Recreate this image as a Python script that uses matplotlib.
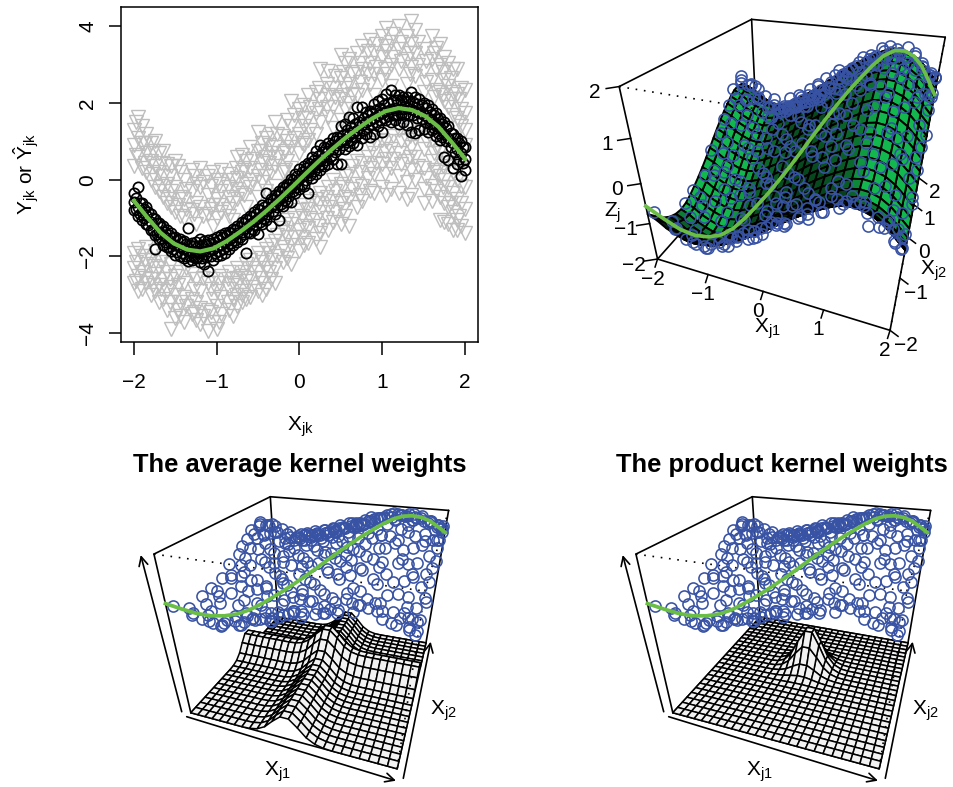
import numpy as np
import matplotlib
matplotlib.use("Agg")
import matplotlib.pyplot as plt
from matplotlib.collections import PolyCollection

plt.rcParams['font.family'] = ['Liberation Sans', 'DejaVu Sans']
plt.rcParams['mathtext.fontset'] = 'custom'
plt.rcParams['mathtext.rm'] = 'Liberation Sans'
plt.rcParams['mathtext.it'] = 'Liberation Sans'
plt.rcParams['mathtext.bf'] = 'Liberation Sans:bold'

GREEN = '#6abd45'
BLUE = '#3953a4'
GREY = '#bebebe'

# true curve
grid_x = [-2.0, -1.84, -1.68, -1.52, -1.36, -1.2, -1.04, -0.88, -0.72, -0.56, -0.4, -0.24, -0.08,
          0.08, 0.24, 0.4, 0.56, 0.72, 0.88, 1.04, 1.2, 1.36, 1.52, 1.68, 1.84, 2.0]
curve_y = [-0.55, -0.98, -1.38, -1.66, -1.82, -1.87, -1.79, -1.6, -1.36, -1.1, -0.81, -0.5, -0.17,
           0.17, 0.5, 0.81, 1.1, 1.36, 1.6, 1.79, 1.87, 1.82, 1.66, 1.38, 0.98, 0.55]
# surface profile along x1 in the top right panel
surface_x1 = [-0.95, -1.15, -1.45, -1.66, -1.82, -1.87, -1.79, -1.6, -1.36, -1.1, -0.81, -0.5, -0.17,
              0.17, 0.5, 0.81, 1.1, 1.36, 1.6, 1.79, 1.87, 1.82, 1.66, 1.38, 0.98, 0.55]

# kernel weight profiles along each axis (bottom panels)
kernel_x1 = [0, 0, 0, 0, 0, 0, 0, 0, 0.02, 0.1, 0.3, 0.65, 0.95, 0.95, 0.65, 0.3, 0.1, 0.02, 0, 0, 0, 0, 0, 0, 0, 0]
kernel_x2 = [0, 0, 0, 0, 0, 0, 0, 0, 0, 0, 0.02, 0.1, 0.3, 0.65, 0.95, 0.95, 0.65, 0.3, 0.1, 0.02, 0, 0, 0, 0, 0, 0]

# grey triangles: one x per row
grey_x = [-2.0, -1.95, -1.9, -1.85, -1.8, -1.75, -1.7, -1.65, -1.6, -1.55, -1.5, -1.45, -1.4, -1.3, -1.25, -1.2,
          -1.1, -1.05, -1.0, -0.95, -0.85, -0.8, -0.75, -0.7, -0.65, -0.6, -0.5, -0.45, -0.4, -0.35, -0.3, -0.2,
          -0.15, -0.1, 0.0, 0.05, 0.1, 0.2, 0.25, 0.35, 0.4, 0.5, 0.55, 0.6, 0.7, 0.75, 0.85, 0.9,
          1.0, 1.05, 1.1, 1.2, 1.3, 1.35, 1.4, 1.5, 1.6, 1.65, 1.7, 1.75, 1.8, 1.85, 1.9, 1.95, 2.0]
grey_y = [
    [1.3, 0.9, 0.35, -1.9, -2.3, -2.7], [1.65, 1.1, 0.6, -1.8, -2.5, -2.9], [1.4, 0.95, 0.3, -2.0, -2.4, -2.85],
    [1.2, 0.7, 0.2, -1.75, -2.2, -2.7], [0.95, 0.5, 0.0, -2.1, -2.6, -3.0], [1.0, 0.35, -0.2, -1.85, -2.45, -2.9],
    [0.7, 0.2, -0.3, -2.3, -2.75, -3.2], [0.75, 0.1, -0.45, -2.0, -2.6, -3.1], [0.4, -0.1, -0.6, -2.4, -2.9, -3.4],
    [0.35, -0.3, -0.7, -2.2, -2.8, -3.9], [0.5, -0.2, -0.85, -2.5, -3.0, -3.6], [0.2, -0.45, -0.95, -2.4, -3.2, -3.55],
    [0.0, -0.5, -1.0, -2.7, -3.05, -3.7], [0.25, -0.3, -0.8, -2.45, -3.1, -3.5], [-0.1, -0.6, -1.15, -2.6, -3.2, -3.65],
    [0.3, -0.2, -0.7, -2.9, -3.35, -3.75], [0.1, -0.4, -0.9, -2.7, -3.4, -3.95], [0.2, -0.65, -1.2, -2.6, -3.1, -3.7],
    [0.0, -0.5, -1.0, -2.9, -3.3, -3.9], [0.25, -0.3, -0.85, -2.5, -3.05, -3.5], [0.15, -0.45, -0.95, -2.4, -2.85, -3.4],
    [0.0, -0.6, -1.05, -2.7, -3.1, -3.55], [0.6, 0.05, -0.5, -2.3, -2.75, -3.3], [0.65, 0.2, -0.35, -2.5, -3.0, -3.2],
    [0.5, -0.1, -0.7, -2.2, -2.65, -3.1], [0.85, 0.3, -0.2, -2.1, -2.55, -3.05], [1.25, 0.75, 0.1, -0.45, -1.9, -2.4, -2.9],
    [0.95, 0.5, -0.05, -2.15, -2.7, -3.0], [1.1, 0.6, 0.1, -0.3, -1.8, -2.3, -2.85], [1.2, 0.7, 0.2, -1.7, -2.1, -2.6],
    [1.5, 0.85, 0.35, -0.15, -1.6, -2.3, -2.7], [1.15, 0.7, 0.2, -1.25, -1.75, -2.15], [1.55, 1.0, 0.5, -1.05, -1.5, -2.05],
    [2.05, 1.4, 0.85, 0.3, -1.15, -1.7, -2.2], [1.85, 1.2, 0.7, -0.8, -1.3, -1.85], [1.95, 1.4, 0.9, -0.65, -1.2, -1.7],
    [2.2, 1.6, 1.05, -0.75, -1.25, -1.65], [2.3, 1.75, 1.2, -0.5, -1.05, -1.55], [2.9, 2.1, 1.5, -0.35, -0.85, -1.4, -1.75],
    [2.85, 2.2, 1.65, -0.2, -0.7, -1.3], [2.4, 1.9, 1.35, 0.0, -0.55, -1.1], [3.25, 2.65, 2.1, 1.55, -0.1, -0.6, -1.15],
    [3.05, 2.4, 1.85, 0.1, -0.45, -0.95], [3.15, 2.5, 2.0, 0.15, -0.5, -1.2], [3.3, 2.8, 2.2, 0.5, -0.1, -0.7],
    [3.5, 2.9, 2.35, 0.45, -0.15, -0.55], [3.65, 3.05, 2.5, 0.9, 0.3, -0.3], [3.3, 2.75, 2.2, 0.7, 0.15, -0.35],
    [3.75, 3.2, 2.6, 1.05, 0.4, -0.2], [3.95, 3.35, 2.75, 1.0, 0.55, -0.4], [3.6, 3.0, 2.45, 0.8, 0.3, -0.25],
    [4.0, 3.4, 2.9, 1.3, 0.7, 0.1, -0.35], [3.75, 3.15, 2.5, 1.05, 0.5, -0.05, -0.5], [4.15, 3.55, 2.95, 1.4, 0.85, 0.25, -0.4],
    [3.9, 3.3, 2.7, 1.1, 0.6, 0.0], [3.4, 2.85, 2.3, 0.8, 0.3, -0.25, -0.6], [3.75, 3.15, 2.6, 1.05, 0.5, -0.15, -0.55],
    [3.45, 2.9, 2.35, 0.85, 0.2, -0.3], [3.55, 3.0, 2.3, 0.75, 0.1, -0.45, -1.05], [3.2, 2.6, 2.05, 0.55, 0.0, -0.6, -1.1],
    [3.05, 2.45, 1.9, 0.45, -0.2, -0.7, -1.15], [2.9, 2.3, 1.7, 0.2, -0.35, -0.85, -1.3], [2.9, 2.25, 1.6, 0.0, -0.5, -1.05, -1.3],
    [2.4, 1.85, 1.4, -0.15, -0.6, -1.2], [2.35, 1.75, 1.3, 0.9, -0.2, -0.75, -1.4]]
grey2_x = [-1.97, -1.87, -1.77, -1.67, -1.57, -1.47, -1.37, -1.27, -1.17, -1.07, -0.97, -0.87, -0.77, -0.67, -0.57, -0.47,
           -0.37, -0.27, -0.17, -0.07, 0.03, 0.13, 0.23, 0.33, 0.43, 0.53, 0.63, 0.73, 0.83, 0.93,
           1.03, 1.13, 1.23, 1.33, 1.43, 1.53, 1.63, 1.73, 1.83, 1.93]
grey2_y = [
    [1.5, 0.65, -2.15, -2.65], [0.95, 0.45, -2.1, -2.55], [0.75, 0.15, -2.25, -2.75], [0.45, -0.15, -2.15, -2.85],
    [0.1, -0.5, -2.6, -3.2], [0.35, -0.65, -2.75, -3.4], [-0.25, -0.75, -2.3, -3.3], [0.1, -0.9, -2.85, -3.45],
    [-0.05, -0.95, -2.55, -3.55], [-0.15, -0.75, -2.85, -3.45], [-0.1, -0.65, -2.7, -3.7], [-0.2, -0.75, -2.6, -3.2],
    [0.3, -0.25, -2.55, -3.0], [0.25, -0.4, -2.4, -2.9], [0.55, 0.0, -2.3, -2.8], [0.75, 0.25, -2.05, -2.55],
    [0.9, 0.45, -1.9, -2.4], [1.2, 0.6, -1.45, -2.0], [0.75, 0.25, -1.35, -1.85], [1.7, 1.1, -1.0, -1.5],
    [1.6, 0.95, -0.95, -1.5], [1.9, 1.3, -0.55, -1.0], [2.4, 1.85, -0.6, -1.2], [2.5, 1.9, -0.45, -1.0],
    [2.7, 2.15, -0.3, -0.85], [2.8, 2.2, -0.2, -0.75], [2.75, 2.25, -0.25, 0.35], [3.05, 2.55, 0.2, -0.4],
    [3.35, 2.75, 0.6, 0.05], [3.55, 2.95, 0.95, 0.45], [3.5, 2.9, 0.75, 0.15], [3.8, 3.2, 1.15, 0.55],
    [3.6, 3.1, 1.0, 0.4], [3.3, 2.75, 1.15, 0.6], [3.6, 3.0, 1.3, 0.35], [3.1, 2.55, 1.05, 0.05],
    [3.3, 2.15, 0.7, 0.25], [2.8, 2.2, 0.35, -0.2], [2.65, 2.1, 0.7, -0.6], [2.1, 1.5, 0.3, -0.95]]

# black circles: one x per row
black_x = [-2.0, -1.95, -1.9, -1.85, -1.8, -1.75, -1.7, -1.65, -1.6, -1.55, -1.5, -1.45, -1.4, -1.35, -1.3, -1.25, -1.2,
           -1.15, -1.1, -1.05, -1.0, -0.95, -0.9, -0.85, -0.8, -0.75, -0.7, -0.65, -0.6, -0.55, -0.5, -0.45, -0.4, -0.35,
           -0.3, -0.25, -0.2, -0.15, -0.1, -0.05, 0.0, 0.05, 0.1, 0.15, 0.2, 0.25, 0.3, 0.35, 0.4, 0.45, 0.5, 0.55, 0.6,
           0.65, 0.7, 0.75, 0.8, 0.85, 0.9, 0.95, 1.0, 1.05, 1.1, 1.15, 1.2, 1.25, 1.3, 1.35, 1.4, 1.45, 1.5, 1.55, 1.6,
           1.65, 1.7, 1.75, 1.8, 1.85, 1.9, 1.95, 2.0]
black_y = [
    [-0.78, -0.58, -0.35], [-0.95, -0.72, -0.2], [-1.05, -0.85, -0.6], [-1.15, -0.92, -0.7], [-1.32, -1.1, -0.88],
    [-1.45, -1.8, -1.02], [-1.55, -1.35, -1.12], [-1.7, -1.45, -1.2], [-1.75, -1.52, -1.3], [-1.85, -1.64, -1.4],
    [-1.95, -1.7, -1.5], [-1.98, -1.75, -1.55], [-2.05, -1.8, -1.6], [-2.12, -1.85, -1.25], [-2.1, -1.88, -1.65],
    [-2.05, -1.85, -1.62], [-2.15, -1.9, -1.55], [-2.2, -1.86, -1.6], [-2.37, -1.85, -1.58], [-2.1, -1.8, -1.55],
    [-2.0, -1.72, -1.5], [-1.95, -1.7, -1.45], [-1.92, -1.62, -1.4], [-1.8, -1.58, -1.35], [-1.7, -1.5, -1.28],
    [-1.62, -1.4, -1.2], [-1.55, -1.35, -1.1], [-1.9, -1.25, -1.02], [-1.4, -1.15, -0.95], [-1.3, -1.08, -0.85],
    [-1.42, -1.0, -0.75], [-1.15, -0.92, -0.65], [-1.05, -0.82, -0.35], [-1.2, -0.72, -0.5], [-0.9, -0.64, -0.4],
    [-1.05, -0.52, -0.3], [-0.68, -0.44, -0.2], [-0.58, -0.32, -0.1], [-0.58, -0.22, 0.02], [-0.35, -0.1, 0.15],
    [-0.25, 0.02, 0.28], [-0.15, 0.12, 0.35], [-0.35, 0.2, 0.45], [0.05, 0.3, 0.6], [0.15, 0.44, 0.75],
    [0.25, 0.5, 0.9], [0.35, 0.6, 0.85], [0.42, 0.74, 0.95], [0.55, 0.8, 1.08], [0.4, 0.92, 1.12],
    [0.42, 1.0, 1.4], [0.8, 1.05, 1.45], [0.88, 1.18, 1.65], [0.95, 1.25, 1.6], [0.9, 1.3, 1.9],
    [1.1, 1.42, 1.9], [1.2, 1.5, 1.78], [1.12, 1.55, 1.8], [1.2, 1.62, 1.98], [1.4, 1.7, 2.05],
    [1.25, 1.75, 2.1], [1.55, 1.8, 2.25], [1.5, 1.85, 2.35], [1.55, 1.88, 2.2], [1.45, 1.85, 2.2],
    [1.5, 1.85, 2.15], [1.42, 1.88, 2.15], [1.25, 1.85, 2.28], [1.22, 1.8, 2.15], [1.3, 1.75, 2.1],
    [1.32, 1.7, 2.0], [1.25, 1.6, 1.95], [1.3, 1.55, 1.85], [1.15, 1.45, 1.75], [1.05, 1.35, 1.6],
    [0.6, 1.2, 1.5], [0.52, 1.1, 1.4], [0.3, 0.95, 1.2], [0.42, 0.8, 1.1], [0.1, 0.7, 1.0], [0.25, 0.55, 0.85]]
black2_x = [-1.975, -1.925, -1.875, -1.825, -1.775, -1.725, -1.675, -1.625, -1.575, -1.525, -1.475, -1.425, -1.375, -1.325,
            -1.275, -1.225, -1.175, -1.125, -1.075, -1.025, -0.975, -0.925, -0.875, -0.825, -0.775, -0.725, -0.675, -0.625,
            -0.575, -0.525, -0.475, -0.425, -0.375, -0.325, -0.275, -0.225, -0.175, -0.125, -0.075, -0.025, 0.025, 0.075,
            0.125, 0.175, 0.225, 0.275, 0.325, 0.375, 0.425, 0.475, 0.525, 0.575, 0.625, 0.675, 0.725, 0.775, 0.825, 0.875,
            0.925, 0.975, 1.025, 1.075, 1.125, 1.175, 1.225, 1.275, 1.325, 1.375, 1.425, 1.475, 1.525, 1.575, 1.625, 1.675,
            1.725, 1.775, 1.825, 1.875, 1.925, 1.975]
black2_lo = [-0.75, -0.88, -1.0, -1.18, -1.3, -1.42, -1.52, -1.62, -1.75, -1.8, -1.88, -1.92, -1.98, -2.0, -2.02, -2.02, -2.05,
             -2.02, -2.0, -1.92, -1.85, -1.8, -1.74, -1.65, -1.58, -1.5, -1.42, -1.35, -1.28, -1.18, -1.1, -1.0, -0.9, -0.82,
             -0.72, -0.62, -0.52, -0.42, -0.3, -0.2, -0.1, 0.0, 0.12, 0.22, 0.33, 0.42, 0.52, 0.62, 0.72, 0.8, 0.9, 0.98, 1.05,
             1.12, 1.22, 1.3, 1.38, 1.45, 1.5, 1.56, 1.62, 1.66, 1.68, 1.7, 1.72, 1.72, 1.7, 1.68, 1.62, 1.58, 1.52, 1.45, 1.35,
             1.22, 1.12, 1.0, 0.85, 0.72, 0.55, 0.45]
black2_hi = [-0.48, -0.6, -0.75, -0.85, -1.0, -1.12, -1.22, -1.35, -1.45, -1.52, -1.58, -1.62, -1.68, -1.7, -1.72, -1.72, -1.7,
             -1.68, -1.66, -1.62, -1.56, -1.5, -1.45, -1.38, -1.3, -1.22, -1.12, -1.05, -0.98, -0.9, -0.8, -0.72, -0.62, -0.52,
             -0.42, -0.33, -0.22, -0.12, 0.0, 0.1, 0.2, 0.3, 0.42, 0.52, 0.62, 0.72, 0.82, 0.9, 1.0, 1.1, 1.18, 1.3, 1.38, 1.45,
             1.52, 1.62, 1.68, 1.75, 1.82, 1.88, 1.95, 2.0, 2.05, 2.08, 2.08, 2.05, 2.05, 2.02, 1.98, 1.95, 1.88, 1.78, 1.68,
             1.58, 1.45, 1.35, 1.22, 1.08, 0.95, 0.85]

# blue points, one x1 per row
cloud_x1 = [-1.9, -1.75, -1.6, -1.3, -1.15, -1.0, -0.85, -0.7, -0.55, -0.4, -0.25, -0.1, 0.05, 0.2, 0.35, 0.5, 0.65, 0.8,
            0.95, 1.1, 1.25, 1.4, 1.55, 1.7, 1.85, 1.95]
cloud_x2 = [
    [-1.95, -1.6, -1.2, -0.9, -0.5, -0.2, 0.2, 0.6, 0.9, 1.2, 1.5, 1.8],
    [-1.7, -1.3, -0.9, -0.4, 0.0, 0.4, 0.75, 1.05, 1.35, 1.65],
    [-1.9, -1.5, -1.1, -0.7, -0.3, 0.1, 0.5, 0.8, 1.1, 1.4, 1.7, 1.95],
    [-1.8, -1.4, -1.0, -0.6, -0.2, 0.2, 0.6, 0.9, 1.2, 1.5, 1.9],
    [-1.75, -1.35, -0.5, 0.3, 0.85, 1.15, 1.45, 1.75],
    [-2.0, -1.6, -1.2, -0.8, -0.4, 0.0, 0.4, 0.7, 1.0, 1.3, 1.6, 1.85],
    [-1.3, -0.95, -0.1, 0.65, 1.05, 1.35, 1.7],
    [-1.9, -1.5, -1.1, -0.7, -0.3, 0.1, 0.5, 0.9, 1.2, 1.5, 1.8],
    [-1.7, -1.15, -0.45, 0.35, 0.85, 1.25, 1.65, 1.9],
    [-1.8, -1.4, -1.0, -0.6, -0.2, 0.2, 0.6, 1.0, 1.3, 1.6, 1.95],
    [-1.45, -0.85, 0.05, 0.7, 1.05, 1.35, 1.8],
    [-2.0, -1.6, -1.2, -0.8, -0.4, 0.0, 0.4, 0.8, 1.1, 1.4, 1.7],
    [-1.75, -1.25, -0.6, 0.3, 0.75, 1.25, 1.55, 1.9],
    [-1.9, -1.5, -1.1, -0.7, -0.3, 0.1, 0.5, 0.9, 1.2, 1.5, 1.85],
    [-1.3, -0.95, -0.1, 0.35, 0.95, 1.3, 1.7],
    [-1.8, -1.4, -1.0, -0.6, -0.2, 0.2, 0.6, 1.0, 1.3, 1.6, 1.95],
    [-1.85, -1.3, -0.45, 0.1, 0.7, 1.15, 1.5, 1.85],
    [-2.0, -1.6, -1.2, -0.8, -0.4, 0.0, 0.4, 0.8, 1.1, 1.4, 1.7],
    [-1.4, -0.9, -0.1, 0.45, 0.95, 1.3, 1.65, 1.95],
    [-1.9, -1.5, -1.1, -0.7, -0.3, 0.1, 0.5, 0.9, 1.2, 1.5, 1.85],
    [-1.65, -1.2, -0.45, 0.25, 0.75, 1.1, 1.4, 1.75],
    [-1.8, -1.4, -1.0, -0.6, -0.2, 0.2, 0.6, 1.0, 1.3, 1.6, 1.95],
    [-1.3, -0.9, -0.1, 0.55, 1.25, 1.85],
    [-2.0, -1.6, -1.2, -0.8, -0.4, 0.0, 0.4, 0.8, 1.1, 1.5, 1.8],
    [-1.7, -1.35, -0.9, -0.5, 0.3, 0.7, 1.0, 1.4, 1.75],
    [-1.9, -1.5, -1.1, -0.7, -0.3, 0.1, 0.5, 0.9, 1.2, 1.6, 1.95]]
cloud_z = [
    [-0.7, -1.3, -1.2, -1.1, -1.0, -0.5, -0.3, 0.25, 0.3, 0.65, 0.35, 0.2],
    [-1.35, -1.45, -1.5, -0.9, -0.7, -0.1, 0.2, 0.2, 0.45, 0.2],
    [-1.1, -1.7, -1.6, -1.5, -1.0, -0.8, -0.2, -0.1, 0.25, 0.05, 0.0, -0.5],
    [-1.5, -1.95, -1.7, -1.4, -1.25, -0.6, -0.45, 0.0, -0.05, 0.05, -0.55],
    [-1.6, -1.75, -1.35, -0.7, -0.05, 0.1, -0.15, -0.25],
    [-1.2, -1.55, -1.9, -1.7, -1.2, -0.95, -0.35, -0.3, 0.1, -0.05, -0.15, -0.3],
    [-1.8, -1.55, -0.95, -0.05, 0.05, 0.25, -0.2],
    [-1.15, -1.4, -1.65, -1.25, -1.05, -0.45, -0.25, 0.25, 0.2, 0.3, -0.2],
    [-1.1, -1.55, -0.9, -0.25, 0.35, 0.3, 0.25, -0.05],
    [-0.85, -1.4, -1.2, -1.05, -0.55, -0.3, 0.25, 0.4, 0.6, 0.3, 0.0],
    [-1.2, -0.95, -0.3, 0.5, 0.55, 0.75, 0.35],
    [-0.45, -0.8, -1.15, -0.8, -0.6, 0.0, 0.2, 0.7, 0.75, 0.9, 0.5],
    [-0.45, -1.0, -0.45, 0.3, 0.85, 0.9, 0.95, 0.4],
    [-0.1, -0.7, -0.6, -0.55, -0.05, 0.25, 0.8, 0.95, 1.25, 1.0, 0.75],
    [-0.65, -0.4, 0.35, 0.65, 1.3, 1.2, 1.1],
    [-0.15, -0.3, -0.45, 0.0, 0.2, 0.75, 1.0, 1.45, 1.35, 1.35, 0.75],
    [0.05, -0.2, 0.1, 0.8, 1.2, 1.65, 1.4, 1.15],
    [0.55, -0.1, -0.1, -0.1, 0.45, 0.65, 1.25, 1.4, 1.75, 1.55, 1.5],
    [0.05, -0.05, 0.65, 1.4, 1.6, 1.85, 1.65, 1.1],
    [0.4, 0.15, -0.1, 0.35, 0.5, 1.1, 1.35, 1.85, 1.95, 1.7, 1.45],
    [0.3, -0.1, 0.4, 1.25, 1.55, 1.95, 1.75, 1.6],
    [0.45, -0.1, 0.1, 0.25, 0.75, 1.0, 1.55, 1.85, 1.95, 1.6, 1.3],
    [-0.25, 0.1, 0.6, 1.45, 1.85, 1.2],
    [0.3, 0.0, -0.35, -0.15, 0.35, 0.6, 1.15, 1.35, 1.7, 1.45, 1.3],
    [-0.3, -0.35, -0.45, 0.05, 0.7, 1.2, 1.45, 1.3, 1.15],
    [-0.15, -0.6, -0.7, -0.2, 0.1, 0.35, 0.95, 1.05, 1.35, 1.2, 0.6]]
# more blue points that do not fall in rows
extra_x1 = [-1.93, -1.86, -1.97, -1.82, -1.68, -1.54, -1.44, -1.94, -1.78, -1.62, -1.47, -1.83, -1.66, -1.42, -1.24, -1.13,
            -0.93, -0.78, -0.63, -0.47, -0.33, -0.17, -0.03, 0.13, 0.27, 0.43, 0.58, 0.74, 0.86, 1.03, 1.17, 1.32, 1.46, 1.58,
            1.72, 1.83, 1.92, 1.98, 1.78, 1.63, -1.12, -0.83, -0.57, -0.36, -0.14, 0.12, 0.31, 0.47, 0.72, 0.91, 1.07, 1.33,
            1.52, 1.68, 1.87, 1.96, 1.92, 1.98, -1.22, -1.08, -0.96, -0.74, -0.62, -0.48, -0.28, -0.07, -0.19, 0.07, 0.17, 0.28,
            0.42, 0.56, 0.69, 0.83, 0.98, 1.13, 1.27, 1.44, 1.57, 1.73, 1.88, 1.66, 1.36, 0.93, 0.73, 0.37, 0.13, -0.53, -0.77,
            -1.48, -1.38, -1.73, -1.57, -1.02, -0.88, -1.27, -0.23, -0.42, -0.12]
extra_x2 = [0.85, 1.1, 1.33, 1.45, 0.95, 1.22, 0.72, 0.42, 0.23, -0.12, -0.55, -0.83, -1.33, -1.72, -1.58, -1.03,
            -1.42, -1.83, -1.24, -0.77, -1.62, -0.62, -1.33, -1.08, -1.77, -0.48, -1.58, -0.97, -1.88, -1.37, -0.73, -1.17, -1.62, -0.58,
            -1.02, -1.53, -1.23, -0.78, -1.25, -1.9, 1.87, 1.93, 1.78, 1.92, 1.73, 1.85, 1.63, 1.77, 1.92, 1.73, 1.88, 1.93,
            1.68, 1.87, 1.52, 1.27, 0.83, 0.32, 0.17, 0.83, 0.33, -0.22, 0.73, 0.13, 0.47, 0.26, 1.17, 0.58, -0.26, 0.76,
            0.07, -0.13, 0.35, -0.37, 0.18, -0.22, 0.42, -0.03, 0.23, 0.62, -0.13, -0.32, 0.83, 0.57, 1.33, 1.07, 1.43, 1.12, 1.47,
            0.37, -0.28, -0.43, -1.72, -0.38, -0.63, -0.82, -0.33, -1.13, -0.86]
extra_z = [0.55, 0.62, 0.7, 0.42, 0.25, 0.22, -0.35, -0.05, -0.55, -0.95, -1.25, -1.35, -1.75, -1.6, -1.85, -2.0,
           -1.85, -1.3, -1.72, -1.35, -1.15, -0.85, -0.95, -0.7, -0.45, 0.12, -0.35, -0.15, 0.2, -0.05, 0.2, -0.1, -0.15, 0.35,
           -0.3, -0.45, -0.65, -0.3, -0.5, 0.2, -0.42, -0.2, 0.0, 0.12, 0.5, 0.65, 0.85, 1.0, 1.2, 1.4, 1.4, 1.15,
           1.6, 1.2, 1.3, 1.35, 1.1, 0.5, -0.85, -0.05, -0.6, -0.95, 0.15, -0.45, 0.2, 0.2, 0.8, 0.6, 0.05, 0.9,
           0.55, 0.5, 0.95, 0.35, 0.95, 0.7, 1.25, 0.75, 1.1, 1.15, 0.25, 0.4, 1.7, 1.3, 1.55, 1.2, 0.9, 0.45, 0.05,
           -0.65, -1.15, -1.0, -1.55, -1.35, -1.45, -1.6, -0.6, -1.45, -1.0]

ticks_3d = [-2, -1, 0, 1, 2]

# box corner positions on the page, used to set up the perspective of each 3d panel
cube = [(-2, -2, -2), (2, -2, -2), (2, 2, -2), (-2, 2, -2), (-2, -2, 2), (2, -2, 2), (2, 2, 2), (-2, 2, 2)]
page_b = [(659.3, 260.7), (890, 330.7), (918.3, 178.3), (756.7, 145), (618.3, 86.7), (925, 133.3), (946.7, 38.3), (751.7, 20)]
page_c = [(190.7, 707.3), (398.3, 771.7), (426.7, 638.3), (276.7, 623.3), (152.7, 554), (425, 596), (446.7, 510.7), (272.7, 494)]
shift_d = 482


def fit_camera(points3, points2):
    rows, rhs = [], []
    for (x, y, z), (u, v) in zip(points3, points2):
        rows.append([x, y, z, 1, 0, 0, 0, 0, -u * x, -u * y, -u * z])
        rows.append([0, 0, 0, 0, x, y, z, 1, -v * x, -v * y, -v * z])
        rhs += [u, v]
    p = np.linalg.lstsq(np.array(rows, float), np.array(rhs, float), rcond=None)[0]
    return np.append(p, 1.0).reshape(3, 4)


def project(cam, x, y, z):
    x, y, z = np.asarray(x, float), np.asarray(y, float), np.asarray(z, float)
    pts = np.stack([x, y, z, np.ones_like(x * y * z)], axis=-1) @ cam.T
    return pts[..., 0] / pts[..., 2], pts[..., 1] / pts[..., 2], pts[..., 2]


def draw_box(ax, cam, lw=1.2):
    c = np.array(cube, float)
    solid = [(0, 1), (1, 2), (2, 3), (3, 0), (0, 4), (3, 7), (2, 6), (4, 7), (7, 6)]
    dotted = [(4, 5), (5, 6), (1, 5)]
    for a, b in solid:
        u, v, _ = project(cam, c[[a, b], 0], c[[a, b], 1], c[[a, b], 2])
        ax.plot(u, v, color='k', lw=lw, zorder=1, solid_capstyle='round')
    for a, b in dotted:
        u, v, _ = project(cam, c[[a, b], 0], c[[a, b], 1], c[[a, b], 2])
        ax.plot(u, v, color='k', lw=1.2, ls=(0, (1, 4)), zorder=3)


def draw_surface(ax, cam, zz, faces, lw):
    xx1, xx2 = np.meshgrid(grid_x, grid_x, indexing='ij')
    u, v, w = project(cam, xx1, xx2, zz)
    quads = np.stack([
        np.stack([u[:-1, :-1], v[:-1, :-1]], -1), np.stack([u[1:, :-1], v[1:, :-1]], -1),
        np.stack([u[1:, 1:], v[1:, 1:]], -1), np.stack([u[:-1, 1:], v[:-1, 1:]], -1)], axis=2)
    depth = (w[:-1, :-1] + w[1:, :-1] + w[1:, 1:] + w[:-1, 1:]).ravel()
    order = np.argsort(-depth)
    quads = quads.reshape(-1, 4, 2)[order]
    colors = faces if isinstance(faces, str) else faces.reshape(-1, 4)[order]
    ax.add_collection(PolyCollection(quads, facecolors=colors, edgecolors='k', linewidths=lw, zorder=2, joinstyle='round'))


def green_faces(zz):
    dx = 0.16
    d1 = ((zz[1:, :-1] - zz[:-1, :-1]) + (zz[1:, 1:] - zz[:-1, 1:])) / (2 * dx)
    d2 = ((zz[:-1, 1:] - zz[:-1, :-1]) + (zz[1:, 1:] - zz[1:, :-1])) / (2 * dx)
    norm = np.sqrt(d1 ** 2 + d2 ** 2 + 1)
    light = np.array([0.55, -0.7, 0.45])
    light = light / np.linalg.norm(light)
    shade = (-d1 * light[0] - d2 * light[1] + light[2]) / norm
    bright = np.clip((1 + shade) / 2, 0, 1) ** 3 * 1.4
    bright = np.clip(bright, 0.18, 1)
    base = np.array([0.07, 0.72, 0.30])
    rgb = bright[..., None] * base
    return np.concatenate([rgb, np.ones(bright.shape + (1,))], axis=-1)


def draw_cloud(ax, cam, scale, offset):
    for x, xs, zs in zip(cloud_x1, cloud_x2, cloud_z):
        u, v, _ = project(cam, [x] * len(xs), xs, offset + scale * np.array(zs))
        ax.plot(u, v, ls='none', marker='o', ms=8, mfc='none', mec=BLUE, mew=1.15, zorder=4)
    u, v, _ = project(cam, extra_x1, extra_x2, offset + scale * np.array(extra_z))
    ax.plot(u, v, ls='none', marker='o', ms=8, mfc='none', mec=BLUE, mew=1.15, zorder=4)
    # the curve runs along the diagonal of the x1-x2 plane
    u, v, _ = project(cam, grid_x, grid_x, offset + scale * np.array(curve_y))
    ax.plot(u, v, color=GREEN, lw=2.7, zorder=5)


fig = plt.figure(figsize=(9.54, 7.87), dpi=100)

# top left panel
ax = fig.add_axes([121 / 954, 1 - 342.3 / 787, 357 / 954, 335 / 787])
for x, ys in zip(grey_x, grey_y):
    ax.plot([x] * len(ys), ys, ls='none', marker='v', ms=9.6, mfc='none', mec=GREY, mew=1.0)
for x, ys in zip(grey2_x, grey2_y):
    ax.plot([x] * len(ys), ys, ls='none', marker='v', ms=9.6, mfc='none', mec=GREY, mew=1.0)
for x, ys in zip(black_x, black_y):
    ax.plot([x] * len(ys), ys, ls='none', marker='o', ms=7.4, mfc='none', mec='k', mew=1.25)
ax.plot(black2_x, black2_lo, ls='none', marker='o', ms=7.4, mfc='none', mec='k', mew=1.25)
ax.plot(black2_x, black2_hi, ls='none', marker='o', ms=7.4, mfc='none', mec='k', mew=1.25)
ax.plot(grid_x, curve_y, color=GREEN, lw=3.0)
ax.set_xlim(-2.157, 2.157)
ax.set_ylim(-4.24, 4.5)
ax.set_xticks([-2, -1, 0, 1, 2])
ax.set_yticks([-4, -2, 0, 2, 4])
ax.tick_params(length=9, width=1.1, labelsize=15, pad=8)
ax.tick_params(axis='x', pad=13)
plt.setp(ax.get_yticklabels(), rotation=90, va='center')
for s in ax.spines.values():
    s.set_linewidth(1.1)

page = fig.add_axes([0, 0, 1, 1])
page.set_xlim(0, 954)
page.set_ylim(787, 0)
page.axis('off')
page.patch.set_alpha(0)

page.text(300, 427, r'$\mathrm{X_{jk}}$', fontsize=15, ha='center', va='center')
page.text(27, 174, r'$\mathrm{Y_{jk}}$ or $\mathrm{\hat{Y}_{jk}}$', fontsize=15, rotation=90, ha='center', va='center')

# top right panel
cam_b = fit_camera(cube, page_b)
surface_b = np.add.outer(surface_x1, curve_y) / 2
draw_box(page, cam_b, lw=1.2)
draw_surface(page, cam_b, surface_b, green_faces(surface_b), 1.4)
draw_cloud(page, cam_b, 1.0, 0.0)

for t in ticks_3d:
    lab = str(t).replace('-', '\u2212')
    u, v, _ = project(cam_b, t, -2, -2)
    page.plot([u, u - 2.5], [v, v + 8], color='k', lw=1.1, zorder=1)
    page.text(u - 5, v + 20, lab, fontsize=15, ha='center', va='center')
    u, v, _ = project(cam_b, 2, t, -2)
    page.plot([u, u + 8], [v, v + 6], color='k', lw=1.1, zorder=1)
    page.text(u + 16, v + 15, lab, fontsize=15, ha='center', va='center')
    u, v, _ = project(cam_b, -2, -2, t)
    page.plot([u, u - 13], [v, v + 2], color='k', lw=1.1, zorder=1)
    page.text(u - 24, v + 6, lab, fontsize=15, ha='center', va='center')
page.text(613, 213, r'$\mathrm{Z_{j}}$', fontsize=15, ha='center', va='center')
page.text(767, 329, r'$\mathrm{X_{j1}}$', fontsize=15, ha='center', va='center')
page.text(933, 271, r'$\mathrm{X_{j2}}$', fontsize=15, ha='center', va='center')

# bottom panels: z is drawn in the same -2..2 box, weights sit on its floor
weights_avg = (np.add.outer(kernel_x1, kernel_x2) / 2) * 1.3 - 2
weights_prod = np.outer(kernel_x1, kernel_x2) * 1.3 - 2
panels = [(0, weights_avg, 'The average kernel weights', 300),
          (shift_d, weights_prod, 'The product kernel weights', 782)]
for dx, weights, title, cx in panels:
    cam = fit_camera(cube, [(a + dx, b) for a, b in page_c])
    draw_box(page, cam, lw=1.2)
    draw_surface(page, cam, weights, '#f2f2f2', 1.1)
    draw_cloud(page, cam, 0.44, 1.2)
    page.text(cx, 465, title, fontsize=18.4, fontweight='bold', ha='center', va='center')
    for start, end in [((181.7, 711.7), (140.7, 555)), ((186.7, 716.7), (396, 780.7)), ((403.3, 778.3), (430.7, 641.7))]:
        page.annotate('', xy=(end[0] + dx, end[1]), xytext=(start[0] + dx, start[1]), annotation_clip=False,
                      arrowprops=dict(arrowstyle='->', lw=1.2, mutation_scale=16, shrinkA=0, shrinkB=0, color='k'))
    page.text(277 + dx, 772, r'$\mathrm{X_{j1}}$', fontsize=15, ha='center', va='center')
    page.text(443 + dx, 711, r'$\mathrm{X_{j2}}$', fontsize=15, ha='center', va='center')

fig.savefig('out.png', dpi=100)
